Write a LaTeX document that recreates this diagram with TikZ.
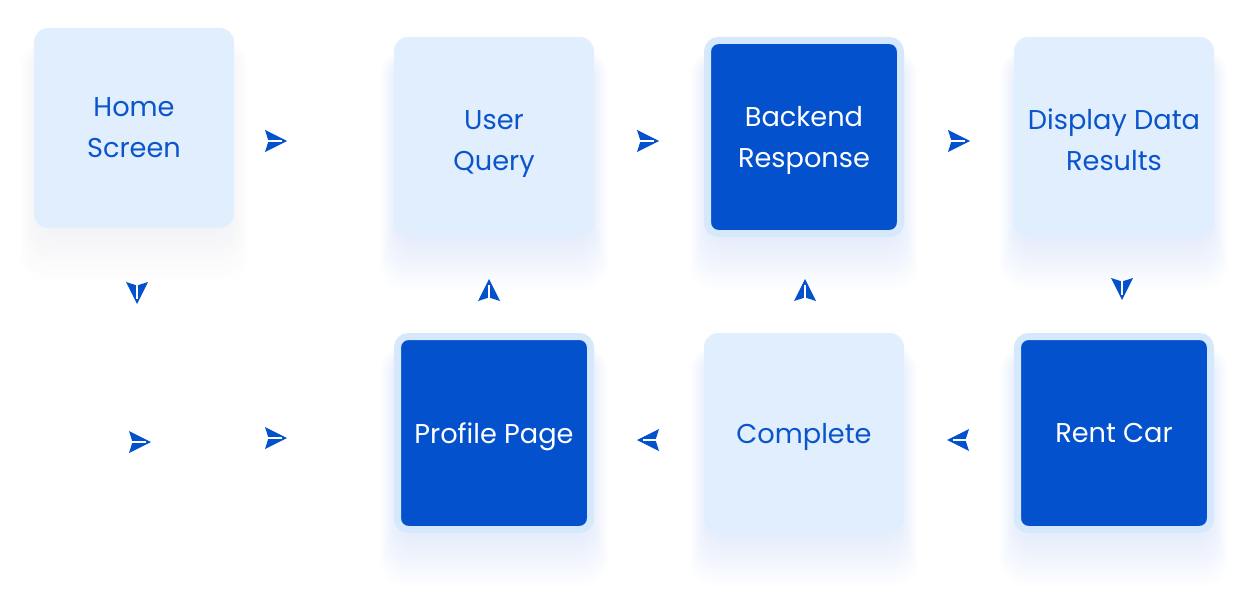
\documentclass[tikz,border=0pt]{standalone}
\usepackage{fontspec}
\setmainfont{Poppins}
\usetikzlibrary{backgrounds}
\definecolor{dblue}{RGB}{3,81,204}
\definecolor{lfill}{RGB}{225,238,253}
\definecolor{lborder}{RGB}{214,232,251}
\definecolor{tblue}{RGB}{10,84,204}
\definecolor{shad}{RGB}{130,165,235}
\definecolor{gshad}{RGB}{170,175,190}
\tikzset{
  base/.style={rounded corners=14pt, align=center, font=\fontsize{27.2}{41}\selectfont, inner sep=0pt, text depth=0pt},
  lightbox/.style={base, fill=lfill, text=tblue, minimum width=200pt, minimum height=200pt},
  darkbox/.style={base, fill=dblue, draw=lborder, line width=7pt, text=white, minimum width=193pt, minimum height=193pt, rounded corners=11pt},
  ahead/.pic={\fill[dblue] (0,0) -- (-22,-11) -- (-18.5,0) -- (-22,11) -- cycle;
              \draw[white, line width=1.6pt] (-19,0) -- (-5.5,0);},
  conn/.style={draw=white, draw opacity=0, line width=1.6pt}
}
\begin{document}
\begin{tikzpicture}[x=1pt,y=-1pt]
\useasboundingbox (0,0) rectangle (1248,602);
% boxes
\node[lightbox] (home) at (134,128) {Home\\Screen};
\node[lightbox, text height=67pt] (query) at (494,137) {User\\Query};
\node[darkbox] (backend) at (804,137) {Backend\\Response};
\node[lightbox, text height=66pt] (display) at (1114,137) {Display Data\\Results};
\node[darkbox] (profile) at (494,433) {Profile Page};
\node[lightbox] (complete) at (804,433) {Complete};
\node[darkbox] (rent) at (1114,433) {Rent Car};
% arrow tip positions
\coordinate (a1) at (287,141);
\coordinate (a2) at (659,141);
\coordinate (a3) at (970,141);
\coordinate (a4) at (1122,300);
\coordinate (a5) at (947,440);
\coordinate (a6) at (637,440);
\coordinate (a7) at (805,279);
\coordinate (a8) at (489,279);
\coordinate (a9) at (137,304);
\coordinate (a10) at (151,442);
\coordinate (a11) at (287,438);
\coordinate (s10) at (110,442);
\coordinate (s11) at (234,438);
\begin{pgfonlayer}{background}
% connectors (white, invisible in the reference)
\draw[conn] (home.east |- a1) -- (a1);
\draw[conn] (query.east |- a2) -- (a2);
\draw[conn] (backend.east |- a3) -- (a3);
\draw[conn] (display.south -| a4) -- (a4);
\draw[conn] (rent.west |- a5) -- (a5);
\draw[conn] (complete.west |- a6) -- (a6);
\draw[conn] (complete.north -| a7) -- (a7);
\draw[conn] (profile.north -| a8) -- (a8);
\draw[conn] (home.south -| a9) -- (a9);
\draw[conn] (s10) -- (a10);
\draw[conn] (s11) -- (a11);
% soft shadows
\foreach \cx/\cy/\op/\col in {134/128/0.008/gshad, 494/137/0.011/shad, 804/137/0.011/shad, 1114/137/0.011/shad, 494/433/0.011/shad, 804/433/0.011/shad, 1114/433/0.011/shad}{
  \foreach \k in {1,...,20}{
    \fill[\col, opacity=\op, rounded corners=24pt] (\cx-94-1.0*\k, \cy-80-0.3*\k) rectangle (\cx+94+1.0*\k, \cy+94+3*\k);
  }
}
\end{pgfonlayer}
% arrowheads
\pic at (a1) {ahead};
\pic at (a2) {ahead};
\pic at (a3) {ahead};
\pic[rotate=-90] at (a4) {ahead};
\pic[rotate=180] at (a5) {ahead};
\pic[rotate=180] at (a6) {ahead};
\pic[rotate=90] at (a7) {ahead};
\pic[rotate=90] at (a8) {ahead};
\pic[rotate=-90] at (a9) {ahead};
\pic at (a10) {ahead};
\pic at (a11) {ahead};
\end{tikzpicture}
\end{document}
